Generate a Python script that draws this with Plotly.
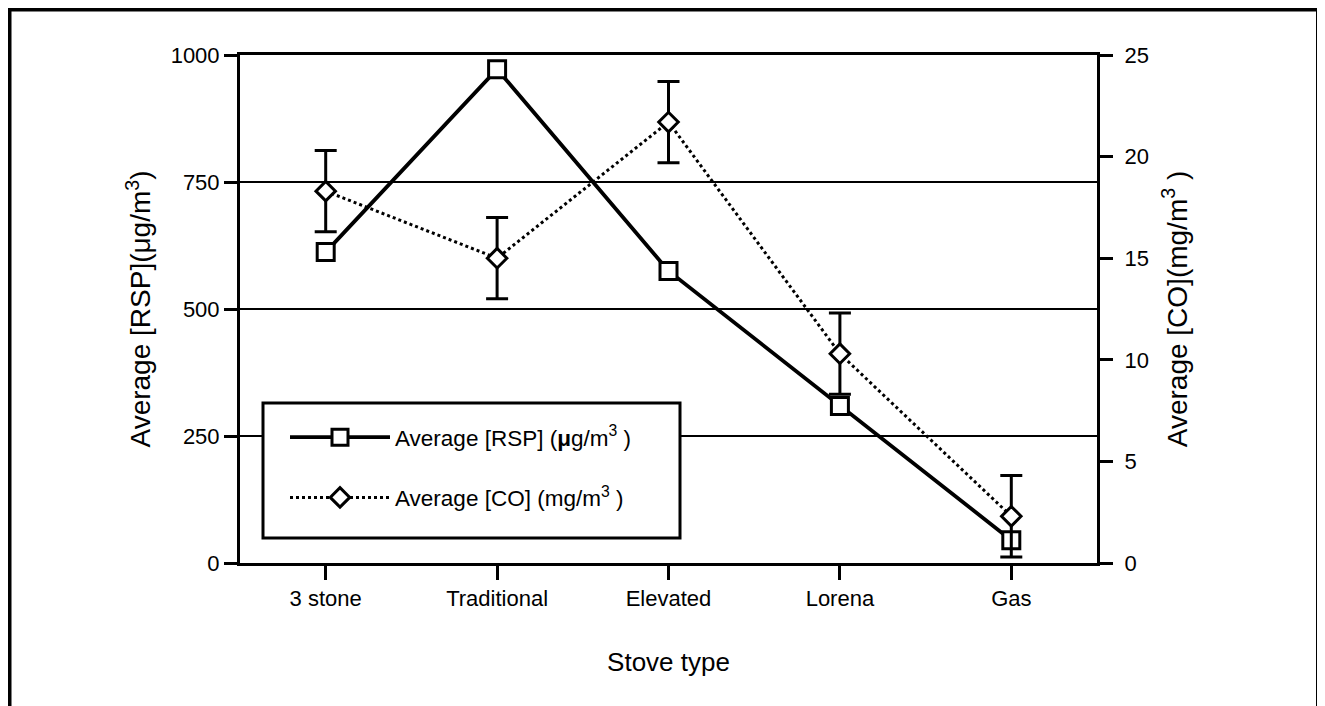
import plotly.graph_objects as go

# ---- data ----
stove_types = ["3 stone", "Traditional", "Elevated", "Lorena", "Gas"]
rsp_values = [612, 972, 575, 309, 45]          # µg/m3
co_values = [18.3, 15.0, 21.7, 10.3, 2.3]      # mg/m3
co_errors = [2.0, 2.0, 2.0, 2.0, 2.0]
rsp_ticks = [0, 250, 500, 750, 1000]
co_ticks = [0, 5, 10, 15, 20, 25]

# ---- geometry (page body has an 8px margin, so the figure starts at 8,8) ----
OFF = 8
W, H = 1325 - OFF, 706 - OFF
PL, PR, PT, PB = 240, 1097, 55, 563            # plot box in screen pixels
ML, MR, MT, MB = PL - OFF, W - (PR - OFF), PT - OFF, H - (PB - OFF)
PW = W - ML - MR
PH = H - MT - MB


def px_x(p):
    return (p - OFF - ML) / PW


def px_y(p):
    return (H - MB - (p - OFF)) / PH


FONT = "Liberation Sans, Arial, Helvetica, sans-serif"

fig = go.Figure()

fig.add_trace(go.Scatter(
    x=stove_types, y=rsp_values, mode="lines+markers",
    name="Average [RSP] (<b>\u03bc</b>g/m<sup>3</sup> )",
    legendgroup="rsp",
    line=dict(color="black", width=3.8),
    marker=dict(symbol="square", size=17, color="white",
                line=dict(color="black", width=3)),
))

fig.add_trace(go.Scatter(
    x=stove_types, y=co_values, mode="lines+markers", yaxis="y2",
    name="Average [CO] (mg/m<sup>3</sup> )",
    legendgroup="co",
    line=dict(color="black", width=3, dash="dot"),
    marker=dict(symbol="diamond", size=15, color="white",
                line=dict(color="black", width=3)),
    error_y=dict(type="data", array=co_errors, visible=True,
                 color="black", thickness=3, width=11),
))

axis_common = dict(
    showline=True, linecolor="black", linewidth=3,
    ticks="outside", tickcolor="black", tickwidth=3,
    zeroline=False,
)

fig.update_layout(
    width=W, height=H, autosize=False,
    margin=dict(l=ML, r=MR, t=MT, b=MB, pad=0),
    paper_bgcolor="white", plot_bgcolor="white",
    font=dict(family=FONT, color="black"),
    xaxis=dict(
        **axis_common,
        type="category", categoryorder="array", categoryarray=stove_types,
        range=[-0.5, 4.5], mirror=True, ticklen=14, showgrid=False,
        tickfont=dict(size=22),
        title=dict(text="Stove type", font=dict(size=26), standoff=43),
    ),
    yaxis=dict(
        **axis_common,
        range=[0, 1000], tickvals=rsp_ticks, ticklen=13,
        showgrid=True, gridcolor="black", gridwidth=2,
        tickfont=dict(size=22),
        title=dict(text="Average [RSP](\u03bcg/m<sup>3</sup>)",
                   font=dict(size=28), standoff=12),
    ),
    yaxis2=dict(
        **axis_common,
        overlaying="y", side="right",
        range=[0, 25], tickvals=co_ticks, ticklen=13, showgrid=False,
        tickfont=dict(size=22), ticklabelstandoff=7,
        title=dict(text="Average [CO](mg/m<sup>3</sup> )",
                   font=dict(size=28), standoff=20),
    ),
    showlegend=True,
    legend=dict(
        x=px_x(285), y=px_y(416), xanchor="left", yanchor="top",
        bgcolor="rgba(0,0,0,0)", borderwidth=0,
        font=dict(size=22.5, family=FONT),
        itemwidth=100, tracegroupgap=28, traceorder="grouped",
    ),
    shapes=[
        # legend box
        dict(type="rect", xref="paper", yref="paper",
             x0=px_x(263), x1=px_x(680), y0=px_y(538), y1=px_y(403),
             line=dict(color="black", width=3), fillcolor="white",
             layer="above"),
        # outer frame
        dict(type="rect", xref="paper", yref="paper",
             x0=px_x(9.5), x1=px_x(1318), y0=px_y(760), y1=px_y(9.5),
             line=dict(color="black", width=4), fillcolor="rgba(0,0,0,0)",
             layer="below"),
    ],
)

fig.write_html("out.html")
